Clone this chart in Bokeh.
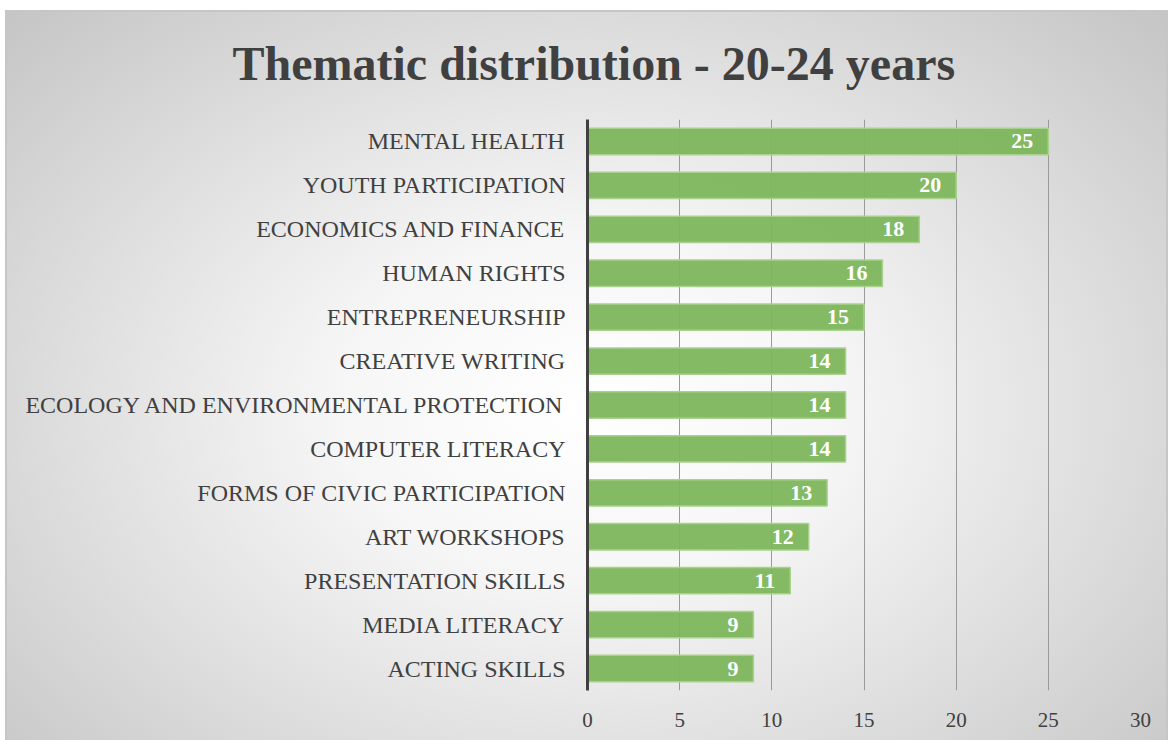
from bokeh.plotting import figure
from bokeh.models import ColumnDataSource, FactorRange, Range1d, LabelSet, FixedTicker
from bokeh.core.properties import value
from bokeh.embed import file_html
from bokeh.resources import INLINE

title_text = "Thematic distribution - 20-24 years"
categories = [
    "MENTAL HEALTH",
    "YOUTH PARTICIPATION",
    "ECONOMICS AND FINANCE",
    "HUMAN RIGHTS",
    "ENTREPRENEURSHIP",
    "CREATIVE WRITING",
    "ECOLOGY AND ENVIRONMENTAL PROTECTION",
    "COMPUTER LITERACY",
    "FORMS OF CIVIC PARTICIPATION",
    "ART WORKSHOPS",
    "PRESENTATION SKILLS",
    "MEDIA LITERACY",
    "ACTING SKILLS",
]
counts = [25, 20, 18, 16, 15, 14, 14, 14, 13, 12, 11, 9, 9]
x_ticks = [0, 5, 10, 15, 20, 25, 30]

source = ColumnDataSource(data=dict(cat=categories, val=counts, lab=[str(v) for v in counts]))

p = figure(
    width=1163, height=738,
    y_range=FactorRange(factors=list(reversed(categories)), range_padding=0),
    x_range=Range1d(0, 30),
    output_backend="svg", toolbar_location=None,
    min_border_left=582, min_border_right=28, min_border_top=117, min_border_bottom=50,
    title=title_text,
)
p.styles = {
    "background": (
        "linear-gradient(#ffffff,#ffffff) 0 0 / 100% 8px no-repeat, "
        "linear-gradient(#c6c6c6,#c6c6c6) 0 8px / 100% 2px no-repeat, "
        "linear-gradient(#c6c6c6,#c6c6c6) 0 8px / 2px 100% no-repeat, "
        "linear-gradient(#c6c6c6,#c6c6c6) right 0 top 8px / 2px 100% no-repeat, "
        "radial-gradient(ellipse farthest-corner at 50% 55%, #ffffff 0%, #f6f6f6 30%, #c4c4c4 100%)"
    ),
    "margin-left": "5px",
    "margin-top": "2px",
}
p.background_fill_color = None
p.border_fill_color = None
p.outline_line_color = None

p.title.text_font = "Liberation Serif"
p.title.text_font_size = "48px"
p.title.text_font_style = "bold"
p.title.text_color = "#404040"
p.title.align = "left"
p.title.offset = -355
p.title.standoff = 60

p.hbar(y="cat", right="val", height=0.6, source=source,
       fill_color="#7db65c", fill_alpha=0.95, line_color="#a9d18e", line_width=1.5)

labels = LabelSet(x="val", y="cat", text="lab", source=source,
                  x_offset=-15, text_align="right", text_baseline="middle",
                  text_font=value("Liberation Serif"), text_font_style="bold",
                  text_font_size="22px", text_color="white")
p.add_layout(labels)

p.xaxis.ticker = FixedTicker(ticks=x_ticks)
p.xaxis.axis_line_color = None
p.xaxis.major_tick_line_color = None
p.xaxis.minor_tick_line_color = None
p.xaxis.major_label_text_font = "Liberation Serif"
p.xaxis.major_label_text_font_size = "21px"
p.xaxis.major_label_text_color = "#404040"
p.xaxis.major_label_standoff = 16

p.yaxis.axis_line_color = "#404040"
p.yaxis.axis_line_width = 3
p.yaxis.major_tick_line_color = None
p.yaxis.minor_tick_line_color = None
p.yaxis.major_label_text_font = "Liberation Serif"
p.yaxis.major_label_text_font_size = "24px"
p.yaxis.major_label_text_color = "#404040"
p.yaxis.major_label_standoff = 16

p.ygrid.grid_line_color = None
p.xgrid.grid_line_color = "#9a9a9a"
p.xgrid.grid_line_width = 1

open("out.html", "w").write(file_html(p, INLINE))
